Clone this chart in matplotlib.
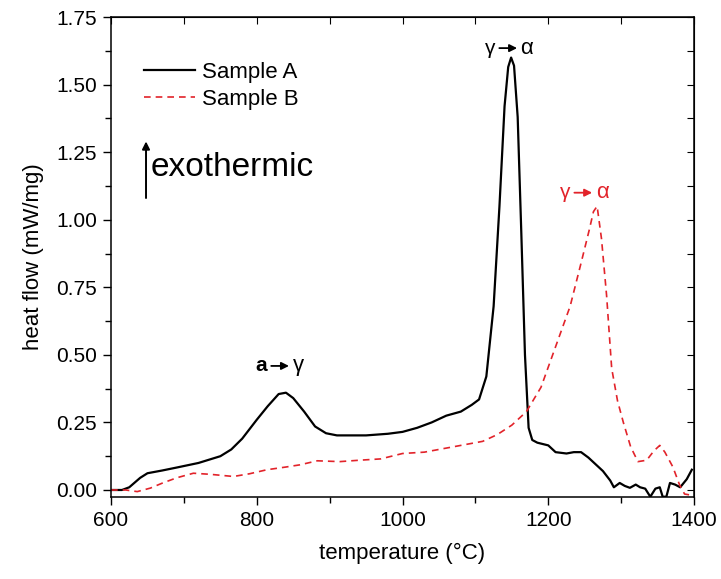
import matplotlib
matplotlib.use('Agg')
import matplotlib.pyplot as plt
from matplotlib.ticker import MultipleLocator

plt.rcParams['font.family'] = ['Liberation Sans', 'DejaVu Sans']

# DSC curves: temperature (°C) vs heat flow (mW/mg)
temp_a = [600, 615, 625, 640, 650, 670, 690, 720, 750, 765, 780, 800, 815, 830, 840, 850,
          865, 880, 895, 910, 950, 980, 1000, 1020, 1040, 1060, 1080, 1095, 1105, 1115,
          1125, 1133, 1140, 1145, 1149, 1153, 1158, 1163, 1168, 1173, 1178, 1185, 1200,
          1210, 1225, 1235, 1245, 1255, 1265, 1275, 1285, 1290, 1298, 1305, 1312, 1320,
          1326, 1333, 1340, 1347, 1353, 1357, 1362, 1367, 1374, 1381, 1390, 1397]
heat_a = [0.0, 0.0, 0.01, 0.045, 0.062, 0.072, 0.083, 0.10, 0.125, 0.15, 0.19, 0.26, 0.31,
          0.355, 0.36, 0.34, 0.29, 0.235, 0.21, 0.202, 0.202, 0.208, 0.215, 0.23, 0.25,
          0.275, 0.29, 0.315, 0.335, 0.42, 0.68, 1.05, 1.42, 1.565, 1.60, 1.57, 1.38, 0.95,
          0.5, 0.23, 0.185, 0.175, 0.165, 0.14, 0.135, 0.14, 0.14, 0.12, 0.095, 0.07,
          0.035, 0.01, 0.026, 0.015, 0.008, 0.02, 0.01, 0.005, -0.025, 0.005, 0.01, -0.025,
          -0.025, 0.026, 0.02, 0.01, 0.04, 0.075]

temp_b = [600, 620, 636, 654, 670, 690, 713, 736, 768, 790, 814, 840, 859, 883, 914, 940,
          970, 1000, 1030, 1060, 1090, 1110, 1130, 1150, 1170, 1190, 1210, 1230, 1245,
          1256, 1262, 1267, 1273, 1280, 1287, 1295, 1303, 1313, 1323, 1335, 1345, 1353,
          1360, 1371, 1380, 1387, 1398]
heat_b = [0.0, 0.0, -0.006, 0.007, 0.025, 0.045, 0.062, 0.058, 0.05, 0.06, 0.075, 0.085,
          0.093, 0.108, 0.105, 0.11, 0.115, 0.135, 0.14, 0.155, 0.17, 0.18, 0.205, 0.24,
          0.29, 0.38, 0.53, 0.68, 0.84, 0.96, 1.03, 1.05, 0.93, 0.72, 0.45, 0.33, 0.25,
          0.16, 0.105, 0.11, 0.145, 0.165, 0.14, 0.085, 0.02, -0.015, -0.02]

red = '#e2232a'

fig = plt.figure(figsize=(7.21, 5.79), dpi=100)
ax = fig.add_axes([0.154, 0.1416, 0.8086, 0.829])

ax.plot(temp_a, heat_a, color='black', lw=1.6, label='Sample A')
ax.plot(temp_b, heat_b, color=red, lw=1.2, ls=(0, (4, 3)), label='Sample B')

ax.set_xlim(600, 1400)
ax.set_ylim(-0.026, 1.75)
ax.xaxis.set_major_locator(MultipleLocator(200))
ax.xaxis.set_minor_locator(MultipleLocator(100))
ax.yaxis.set_major_locator(MultipleLocator(0.25))
ax.yaxis.set_minor_locator(MultipleLocator(0.125))
ax.yaxis.set_major_formatter(plt.FormatStrFormatter('%.2f'))
ax.tick_params(which='both', direction='out', labelsize=15, width=1)
ax.tick_params(which='major', length=6, pad=4)
ax.tick_params(which='minor', length=4)
for s in ax.spines.values():
    s.set_linewidth(1.1)

# mirrored ticks on top and right, pointing inward
top = ax.secondary_xaxis('top')
top.xaxis.set_major_locator(MultipleLocator(100))
top.tick_params(direction='in', length=5, labeltop=False)
right = ax.secondary_yaxis('right')
right.yaxis.set_major_locator(MultipleLocator(0.125))
right.tick_params(direction='in', length=5, labelright=False)

ax.set_xlabel('temperature (°C)', fontsize=16, labelpad=9)
ax.set_ylabel('heat flow (mW/mg)', fontsize=16, labelpad=9)

ax.legend(loc='upper left', bbox_to_anchor=(0.022, 0.948), frameon=False, fontsize=16,
          handlelength=2.3, handletextpad=0.3, labelspacing=0.25)

# exothermic arrow
ax.annotate('', xy=(648, 1.30), xytext=(648, 1.07),
            arrowprops=dict(arrowstyle='-|>', color='black', lw=1.4, mutation_scale=11))
ax.text(655, 1.195, 'exothermic', fontsize=24, va='center', ha='left')


def transition(x, y, left, right_txt, color, bold_left=False):
    ax.text(x - 18, y, left, color=color, fontsize=15, ha='right', va='center',
            fontweight='bold' if bold_left else 'normal')
    ax.annotate('', xy=(x + 16, y), xytext=(x - 16, y),
                arrowprops=dict(arrowstyle='-|>', color=color, lw=1.3, mutation_scale=11))
    ax.text(x + 17, y, right_txt, color=color, fontsize=16, ha='left', va='center')


transition(832, 0.459, 'a', 'γ', 'black', bold_left=True)
transition(1145, 1.635, 'γ', 'α', 'black')
transition(1248, 1.10, 'γ', 'α', red)

fig.savefig('out.png', dpi=100)
